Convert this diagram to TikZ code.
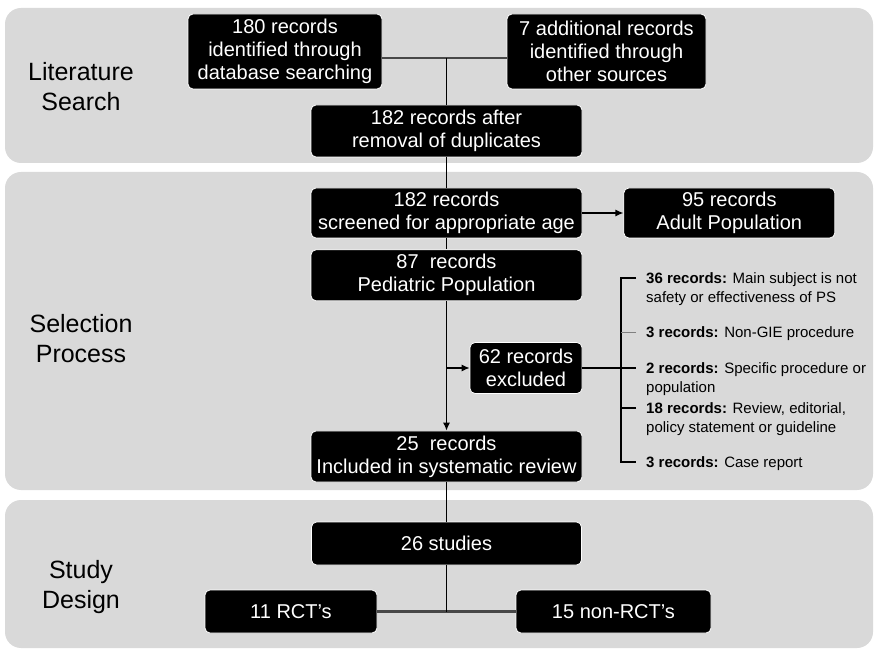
\documentclass[tikz,border=0pt]{standalone}
\usepackage{fontspec}
\setmainfont{Liberation Sans}
\usetikzlibrary{arrows.meta, positioning}
\definecolor{panelgrey}{RGB}{217,217,217}
\definecolor{joingrey}{RGB}{72,72,72}

\begin{document}
\begin{tikzpicture}[x=1pt, y=-1pt,
    panel/.style={fill=panelgrey, rounded corners=16pt},
    rec/.style={fill=black, draw=white, line width=0.8pt, rounded corners=5pt,
        text=white, align=center, inner sep=0pt, font=\fontsize{20}{23}\selectfont},
    phase/.style={align=center, font=\fontsize{25}{30}\selectfont},
    reason/.style={anchor=north west, align=left, inner sep=0pt,
        font=\fontsize{15}{19}\selectfont},
    link/.style={line width=1.2pt},
    joinline/.style={line width=2.6pt, joingrey},
    arr/.style={link, -{Latex[length=8pt, width=7pt]}}]

    \useasboundingbox (0,0) rectangle (879,652);
    \fill [panel] (5,8) rectangle (873,163);
    \fill [panel] (5,172) rectangle (873,490);
    \fill [panel] (5,500) rectangle (873,648);

    \node (lit) [phase] at (81,87) {Literature\\Search};
    \node (sel) [phase] at (81,339) {Selection\\Process};
    \node (des) [phase] at (81,587) {Study\\Design};

    % literature search
    \node (db) [rec, minimum width=194pt, minimum height=75pt] at (285,51.5)
        {180 records\\identified through\\database searching};
    \node (other) [rec, minimum width=199pt, minimum height=75pt] at (606.5,51.5)
        {7 additional records\\identified through\\other sources};
    \node (dedup) [rec, minimum width=271pt, minimum height=52pt] at (446.5,131)
        {182 records after\\removal of duplicates};

    % selection
    \node (screen) [rec, minimum width=271pt, minimum height=50pt] at (446.5,213)
        {182 records\\screened for appropriate age};
    \node (adult) [rec, minimum width=211pt, minimum height=50pt, right=41pt of screen]
        {95 records\\Adult Population};
    \node (pedi) [rec, minimum width=271pt, minimum height=51pt, below=11pt of screen]
        {87\ \ records\\Pediatric Population};
    \node (excl) [rec, minimum width=112pt, minimum height=51pt] at (526,368)
        {62 records\\excluded};
    \node (incl) [rec, minimum width=271pt, minimum height=51pt] at (446.5,456.5)
        {25\ \ records\\Included in systematic review};

    \node (r1) [reason] at (646,272) {\textbf{36 records:} Main subject is not\\safety or effectiveness of PS};
    \node (r2) [reason] at (646,326) {\textbf{3 records:} Non-GIE procedure};
    \node (r3) [reason] at (646,362) {\textbf{2 records:} Specific procedure or\\population};
    \node (r4) [reason] at (646,402) {\textbf{18 records:} Review, editorial,\\policy statement or guideline};
    \node (r5) [reason] at (646,456) {\textbf{3 records:} Case report};

    % study design
    \node (studies) [rec, minimum width=270pt, minimum height=43pt] at (446.5,543.5) {26 studies};
    \node (rct) [rec, minimum width=172pt, minimum height=43pt] at (291,611.5) {11 RCT's};
    \node (nonrct) [rec, minimum width=195pt, minimum height=43pt] at (613.5,611.5) {15 non-RCT's};

    \coordinate (merge) at (446.5,58);
    \coordinate (split) at (446.5,611.5);
    \coordinate (t1) at (636,278);
    \coordinate (t2) at (636,332);
    \coordinate (t3) at (636,368);
    \coordinate (t4) at (636,408);
    \coordinate (t5) at (636,462);

    \draw [joinline] (db.east |- merge) -- (other.west |- merge);
    \draw [joinline] (rct) -- (nonrct);
    \draw [link] (merge) -- (dedup);
    \draw [link] (dedup) -- (screen);
    \draw [link] (screen) -- (pedi);
    \draw [arr] (screen) -- (adult);
    \draw [arr] (pedi) -- (incl);
    \draw [arr] (pedi.south |- excl) -- (excl);
    \draw [link] (incl) -- (studies);
    \draw [link] (studies) -- (split);

    \draw [link] (excl) -- (t3);
    \draw [link] (t1) -- +(-15,0) |- (t5);
    \draw [line width=0.6pt, gray] (t2) -- +(-15,0);
    \draw [link] (t4) -- +(-15,0);
\end{tikzpicture}
\end{document}
